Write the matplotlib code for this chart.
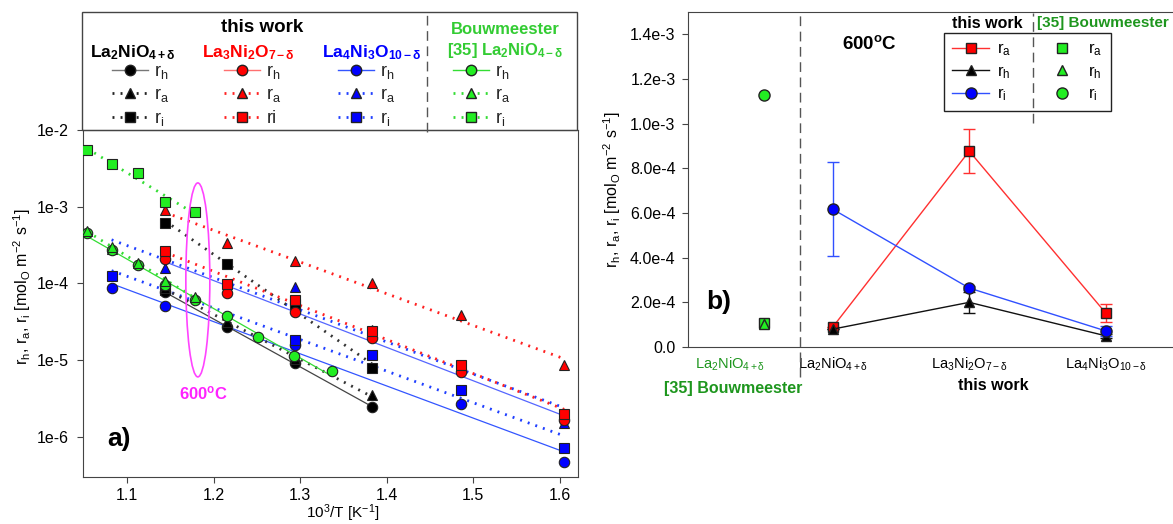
import numpy as np
import matplotlib
matplotlib.use("Agg")
import matplotlib.pyplot as plt
from matplotlib.lines import Line2D
from matplotlib.patches import Ellipse, Rectangle
from matplotlib.ticker import FixedLocator, FixedFormatter, NullLocator

plt.rcParams['font.family'] = ['Liberation Sans', 'DejaVu Sans']
plt.rcParams['mathtext.fontset'] = 'custom'
plt.rcParams['mathtext.rm'] = 'Liberation Sans'
plt.rcParams['mathtext.it'] = 'Liberation Sans:italic'
plt.rcParams['mathtext.bf'] = 'Liberation Sans:bold'
plt.rcParams['mathtext.default'] = 'regular'
plt.rcParams['font.size'] = 11.5

# --- panel a: 10^3/T [K^-1] vs rates ---
# La2NiO4+d (this work)
x_l2 = [1.144, 1.215, 1.294, 1.383]
rh_l2 = [7.7e-5, 2.7e-5, 9.2e-6, 2.45e-6]
ra_l2 = [8.8e-5, 3.1e-5, 1.05e-5, 3.5e-6]
ri_l2 = [6.1e-4, 1.8e-4, 5.4e-5, 7.9e-6]
# La3Ni2O7-d
x_l3 = [1.144, 1.215, 1.294, 1.383, 1.486, 1.605]
rh_l3 = [2.1e-4, 7.5e-5, 4.3e-5, 1.95e-5, 7.0e-6, 1.67e-6]
ra_l3 = [9.1e-4, 3.4e-4, 1.96e-4, 1.02e-4, 3.9e-5, 8.7e-6]
ri_l3 = [2.65e-4, 9.9e-5, 6.1e-5, 2.4e-5, 8.7e-6, 2.0e-6]
# La4Ni3O10-d
x_l4 = [1.082, 1.144, 1.294, 1.383, 1.486, 1.605]
x_l4h = [1.082, 1.144, 1.294, 1.486, 1.605]
rh_l4 = [8.7e-5, 5.1e-5, 1.58e-5, 2.7e-6, 4.7e-7]
ra_l4 = [2.8e-4, 1.6e-4, 9.0e-5, 2.5e-5, 8.7e-6, 1.52e-6]
ri_l4 = [1.25e-4, 8.2e-5, 1.84e-5, 1.17e-5, 4.1e-6, 7.2e-7]
# Bouwmeester [35]
x_bh = [1.054, 1.082, 1.113, 1.144, 1.178, 1.215, 1.251, 1.293, 1.337]
rh_b = [4.6e-4, 2.75e-4, 1.75e-4, 9.6e-5, 6.1e-5, 3.8e-5, 2.0e-5, 1.14e-5, 7.2e-6]
x_b = [1.054, 1.082, 1.113, 1.144, 1.178]
ra_b = [4.8e-4, 3.0e-4, 1.85e-4, 1.08e-4, 6.7e-5]
ri_b = [5.5e-3, 3.6e-3, 2.75e-3, 1.15e-3, 8.5e-4]

yticks_a = [1e-6, 1e-5, 1e-4, 1e-3, 1e-2]
ylabels_a = ['1e-6', '1e-5', '1e-4', '1e-3', '1e-2']
xticks_a = [1.1, 1.2, 1.3, 1.4, 1.5, 1.6]

# --- panel b: 600 C ---
pos_b = [0, 1, 2]
names_b = ['La$_2$NiO$_{4+δ}$', 'La$_3$Ni$_2$O$_{7-δ}$', 'La$_4$Ni$_3$O$_{10-δ}$']
ra_600 = [8.9e-5, 8.77e-4, 1.52e-4]
ra_600_err = [0, 1.0e-4, 4.2e-5]
rh_600 = [8.0e-5, 2.0e-4, 5.0e-5]
rh_600_err = [0, 4.8e-5, 8e-6]
ri_600 = [6.17e-4, 2.64e-4, 7.2e-5]
ri_600_err = [2.1e-4, 8e-6, 2.2e-5]
pos_bw = -0.5
ra_bw, rh_bw, ri_bw = 1.07e-4, 1.05e-4, 1.13e-3
yticks_b = [0, 2e-4, 4e-4, 6e-4, 8e-4, 1e-3, 1.2e-3, 1.4e-3]
ylabels_b = ['0.0', '2.0e-4', '4.0e-4', '6.0e-4', '8.0e-4', '1.0e-3', '1.2e-3', '1.4e-3']

GREEN = '#22ee22'
GREEN_L = '#33dd33'
GREEN_T = '#33cc33'
GREEN_D = '#1e961e'
DOT = (0, (0.7, 2.2))

fig = plt.figure(figsize=(11.73, 5.24), dpi=100)
W, H = 1173, 524

def fbox(l, t, r, b):
    return [l / W, 1 - b / H, (r - l) / W, (b - t) / H]

ax = fig.add_axes(fbox(83, 130, 578, 477))

def series(x, y, fc, marker, ls, lc, lw, z=3):
    x = np.asarray(x)
    k, c = np.polyfit(x, np.log10(y), 1)
    xf = np.array([x.min(), x.max()])
    ax.plot(xf, 10 ** (k * xf + c), ls=ls, color=lc, lw=lw, zorder=2)
    ax.plot(x, y, ls='none', marker=marker, mfc=fc, mec='#222222', ms=7.5, mew=0.8, zorder=z)

series(x_l4h, rh_l4, 'blue', 'o', '-', '#3355ff', 0.9)
series(x_l4, ra_l4, 'blue', '^', DOT, '#1f3fff', 2.0)
series(x_l4, ri_l4, 'blue', 's', DOT, '#1f3fff', 2.0)
series(x_l2, rh_l2, 'black', 'o', '-', '#444444', 0.9)
series(x_l2, ra_l2, 'black', '^', DOT, '#333333', 2.0)
series(x_l2, ri_l2, 'black', 's', DOT, '#333333', 2.0)
series(x_l3, rh_l3, 'red', 'o', '-', '#5566ff', 0.9)
series(x_l3, ra_l3, 'red', '^', DOT, '#ff2020', 2.0)
series(x_l3, ri_l3, 'red', 's', DOT, '#ff2020', 2.0)
series(x_bh, rh_b, GREEN, 'o', '-', GREEN_L, 0.9, 4)
series(x_b, ra_b, GREEN, '^', DOT, GREEN_L, 2.0, 4)
series(x_b, ri_b, GREEN, 's', DOT, GREEN_L, 2.0, 4)

ax.set_yscale('log')
ax.set_xlim(1.049, 1.621)
ax.set_ylim(3.0e-7, 1e-2)
ax.yaxis.set_major_locator(FixedLocator(yticks_a))
ax.yaxis.set_major_formatter(FixedFormatter(ylabels_a))
ax.yaxis.set_minor_locator(NullLocator())
ax.set_xticks(xticks_a)
ax.set_xticklabels([f'{v:.1f}' for v in xticks_a])
ax.tick_params(direction='out', length=4, width=0.8, color='#444444', pad=6)
ax.tick_params(axis='x', pad=4)
for s in ax.spines.values():
    s.set_color('#444444')
ax.set_xlabel('10$^3$/T [K$^{-1}$]', fontsize=11)
ax.xaxis.set_label_coords((343 - 83) / 495, -0.074)
ax.set_ylabel('r$_h$, r$_a$, r$_i$ [mol$_O$ m$^{-2}$ s$^{-1}$]')
ax.yaxis.set_label_coords(-0.102, 0.55)
ax.add_patch(Ellipse((0.232, 0.568), 0.0485, 0.559, transform=ax.transAxes,
                     fill=False, ec='#ff44ff', lw=1.2, zorder=5))
ax.text(0.243, 0.24, '600$^\\mathbf{o}$C', transform=ax.transAxes, color='#ff22ff',
        fontweight='bold', fontsize=12, ha='center', va='center')
ax.text(0.072, 0.11, 'a)', transform=ax.transAxes, fontsize=19, fontweight='bold',
        ha='center', va='center')

# legend box above panel a
fig.patches.append(Rectangle((82 / W, 1 - 130 / H), 495 / W, 118 / H, transform=fig.transFigure,
                             fill=False, ec='#444444', lw=1.0))
fig.lines.append(Line2D([427 / W, 427 / W], [1 - 132 / H, 1 - 12 / H], transform=fig.transFigure,
                        color='#555555', lw=1.0, ls=(0, (7, 4))))
fig.text(262 / W, 1 - 27 / H, 'this work', fontsize=13.5, fontweight='bold', ha='center', va='center')

def handles(fc, lc, dc):
    return [Line2D([], [], color=lc, lw=1.0, marker='o', mfc=fc, mec='#222222', ms=7.5),
            Line2D([], [], color=dc, lw=2.0, ls=DOT, marker='^', mfc=fc, mec='#222222', ms=7.5),
            Line2D([], [], color=dc, lw=2.0, ls=DOT, marker='s', mfc=fc, mec='#222222', ms=7)]

groups = [
    (112, 133, 'La$_2$NiO$_{4+δ}$', 'black', 'black', '#777777', '#222222', ['r$_h$', 'r$_a$', 'r$_i$']),
    (224, 248, 'La$_3$Ni$_2$O$_{7-δ}$', 'red', 'red', '#ff7070', '#ff2020', ['r$_h$', 'r$_a$', 'ri']),
    (338, 372, 'La$_4$Ni$_3$O$_{10-δ}$', 'blue', 'blue', '#3355ff', '#1f3fff', ['r$_h$', 'r$_a$', 'r$_i$']),
    (453, 505, 'Bouwmeester\n[35] La$_2$NiO$_{4-δ}$', GREEN_T, GREEN, GREEN_L, GREEN_L, ['r$_h$', 'r$_a$', 'r$_i$']),
]
for xl, xc, title, tcol, fc, lc, dc, labs in groups:
    if '\n' in title:
        fig.text(xc / W, 1 - 41 / H, title, color=tcol, fontweight='bold', fontsize=12,
                 ha='center', va='center', linespacing=1.25)
    else:
        fig.text(xc / W, 1 - 53 / H, title, color=tcol, fontweight='bold', fontsize=12.5,
                 ha='center', va='center')
    leg = fig.legend(handles(fc, lc, dc), labs, loc='upper left', bbox_to_anchor=(xl / W, 1 - 63 / H),
                     frameon=False, handlelength=2.0, handletextpad=0.35, labelspacing=0.3,
                     borderpad=0, borderaxespad=0, fontsize=13)
    for t in leg.get_texts():
        t.set_color('#222222')

# --- panel b ---
ax2 = fig.add_axes(fbox(688, 12, 1174, 347))
ax2.errorbar(pos_b, ra_600, yerr=ra_600_err, color='#ff3030', lw=1.0, marker='s', mfc='red',
             mec='#222222', ms=7, capsize=4, ecolor='#ff3030', elinewidth=1.0, zorder=3)
ax2.errorbar(pos_b, rh_600, yerr=rh_600_err, color='#111111', lw=1.0, marker='^', mfc='black',
             mec='#222222', ms=7.5, capsize=4, ecolor='#111111', elinewidth=1.0, zorder=3)
ax2.errorbar(pos_b, ri_600, yerr=ri_600_err, color='#3050ff', lw=1.0, marker='o', mfc='blue',
             mec='#222222', ms=8, capsize=4, ecolor='#3050ff', elinewidth=1.0, zorder=4)
ax2.plot([pos_bw], [ra_bw], ls='none', marker='s', mfc=GREEN, mec='#222222', ms=7, zorder=3)
ax2.plot([pos_bw], [rh_bw], ls='none', marker='^', mfc=GREEN, mec='#222222', ms=7.5, zorder=4)
ax2.plot([pos_bw], [ri_bw], ls='none', marker='o', mfc=GREEN, mec='#222222', ms=8, zorder=4)
ax2.set_xlim(-1.06, 2.5)
ax2.set_ylim(0, 1.5e-3)
ax2.set_yticks(yticks_b)
ax2.set_yticklabels(ylabels_b)
ax2.set_xticks([-0.75] + pos_b)
ax2.set_xticklabels(['La$_2$NiO$_{4+δ}$'] + names_b, fontsize=10.5)
ax2.get_xticklabels()[0].set_color(GREEN_D)
ax2.tick_params(axis='y', direction='out', length=4, width=0.8, color='#444444', pad=5)
ax2.tick_params(axis='x', length=0, pad=6)
for s in ax2.spines.values():
    s.set_color('#444444')
ax2.spines['right'].set_visible(False)
ax2.set_ylabel('r$_h$, r$_a$, r$_i$ [mol$_O$ m$^{-2}$ s$^{-1}$]')
ax2.yaxis.set_label_coords(-0.134, 0.47)
ax2.axvline(-0.24, ymin=-0.09, ymax=1, color='#555555', lw=1.0, ls=(0, (7, 4)), clip_on=False)
ax2.text(0.374, 0.904, '600$^\\mathbf{o}$C', transform=ax2.transAxes, fontsize=13.5,
         fontweight='bold', ha='center', va='center')
ax2.text(0.064, 0.134, 'b)', transform=ax2.transAxes, fontsize=19, fontweight='bold',
         ha='center', va='center')
ax2.text(0.093, -0.125, '[35] Bouwmeester', transform=ax2.transAxes, color=GREEN_D,
         fontweight='bold', ha='center', va='center')
ax2.text(0.628, -0.116, 'this work', transform=ax2.transAxes, fontweight='bold',
         ha='center', va='center')

hb = [Line2D([], [], color='#ff3030', lw=1.0, marker='s', mfc='red', mec='#222222', ms=7),
      Line2D([], [], color='#111111', lw=1.0, marker='^', mfc='black', mec='#222222', ms=7.5),
      Line2D([], [], color='#3050ff', lw=1.0, marker='o', mfc='blue', mec='#222222', ms=8),
      Line2D([], [], ls='none', marker='s', mfc=GREEN, mec='#222222', ms=7),
      Line2D([], [], ls='none', marker='^', mfc=GREEN, mec='#222222', ms=7.5),
      Line2D([], [], ls='none', marker='o', mfc=GREEN, mec='#222222', ms=8)]
lb = ['r$_a$', 'r$_h$', 'r$_i$', 'r$_a$', 'r$_h$', 'r$_i$']
leg2 = ax2.legend(hb, lb, ncol=2, loc='upper left', bbox_to_anchor=(944 / W, 1 - 33 / H),
                  bbox_transform=fig.transFigure, frameon=True, fancybox=False, edgecolor='#222222',
                  framealpha=1, borderaxespad=0, handlelength=2.2, handletextpad=0.5,
                  columnspacing=1.9, labelspacing=0.35, borderpad=0.5, fontsize=12)
leg2.get_frame().set_linewidth(1.0)
fig.lines.append(Line2D([1033 / W, 1033 / W], [1 - 123 / H, 1 - 13 / H], transform=fig.transFigure,
                        color='#555555', lw=1.0, ls=(0, (7, 4)), zorder=10))
fig.text(987 / W, 1 - 23 / H, 'this work', fontweight='bold', ha='center', va='center', fontsize=11.5)
fig.text(1037 / W, 1 - 23 / H, '[35] Bouwmeester', fontweight='bold', color=GREEN_D,
         ha='left', va='center', fontsize=11)

fig.savefig('out.png', dpi=100)
